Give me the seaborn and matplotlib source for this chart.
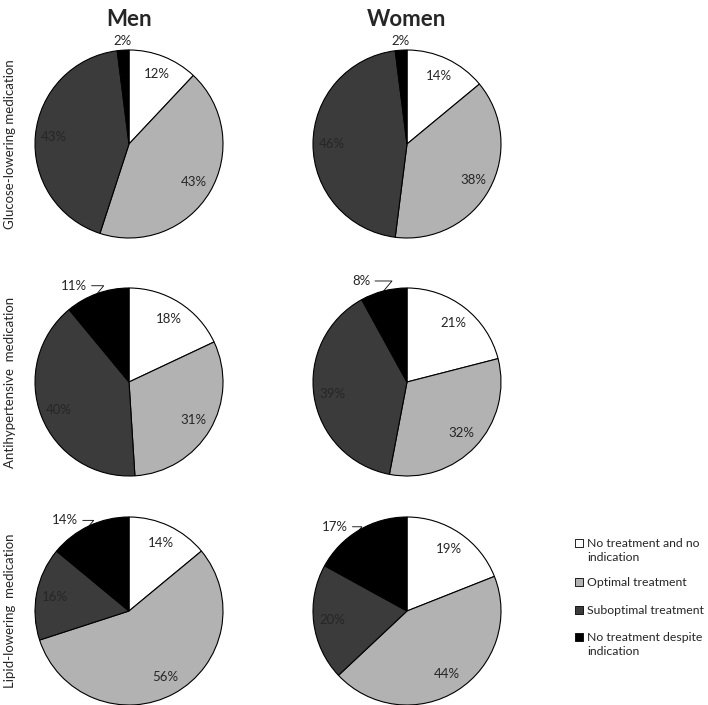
import numpy as np
import matplotlib
matplotlib.use("Agg")
import matplotlib.pyplot as plt
import seaborn as sns

## Data
categories = ["No treatment and no\nindication", "Optimal treatment",
              "Suboptimal treatment", "No treatment despite\nindication"]
groups = ["Men", "Women"]
medications = ["Glucose-lowering medication", "Antihypertensive  medication",
               "Lipid-lowering  medication"]

glucose_men = [12, 43, 43, 2]
glucose_women = [14, 38, 46, 2]
antihyp_men = [18, 31, 40, 11]
antihyp_women = [21, 32, 39, 8]
lipid_men = [14, 56, 16, 14]
lipid_women = [19, 44, 20, 17]

values = [[glucose_men, glucose_women],
          [antihyp_men, antihyp_women],
          [lipid_men, lipid_women]]

## Style
sns.set_style("white")
plt.rcParams['font.family'] = ['Lato', 'DejaVu Sans']
palette = sns.color_palette(["#ffffff", "#b2b2b2", "#3b3b3b", "#000000"])

W, H = 708, 705
R = 94
centers_x = [129, 407]
centers_y = [144, 382, 611]

fig = plt.figure(figsize=(W / 100, H / 100), dpi=100)

def pie_panel(ax, vals):
	wedges, _ = ax.pie(vals, colors=palette, startangle=90, counterclock=False,
	                   wedgeprops=dict(edgecolor="black", linewidth=0.8))
	ax.set_xlim(-1, 1)
	ax.set_ylim(-1, 1)
	for i, (w, v) in enumerate(zip(wedges, vals)):
		mid = np.deg2rad((w.theta1 + w.theta2) / 2)
		if i < 3:
			# Inside labels
			ax.text(0.8 * np.cos(mid), 0.8 * np.sin(mid), f"{v}%", ha="center",
			        va="center", fontsize=9.5)
		elif v < 5:
			# Tiny slice, label just outside
			ax.text(1.1 * np.cos(mid), 1.1 * np.sin(mid), f"{v}%", ha="center",
			        va="center", fontsize=9.5)
		else:
			# Outside label with leader line
			t = mid + np.deg2rad(10)
			ax.annotate(f"{v}%", xy=(np.cos(mid), np.sin(mid)),
			            xytext=(1.18 * np.cos(t), 1.18 * np.sin(t)),
			            ha="center", va="center", fontsize=9.5, annotation_clip=False,
			            arrowprops=dict(arrowstyle="-", color="black", lw=0.6,
			                            shrinkA=1, shrinkB=0,
			                            connectionstyle="angle,angleA=0,angleB=50,rad=0"))

for r, row in enumerate(values):
	for c, vals in enumerate(row):
		cx, cy = centers_x[c], centers_y[r]
		ax = fig.add_axes([(cx - R) / W, 1 - (cy + R) / H, 2 * R / W, 2 * R / H])
		pie_panel(ax, vals)

# Column titles
for c, g in enumerate(groups):
	fig.text(centers_x[c] / W, 1 - 20 / H, g, ha="center", va="center",
	         fontsize=16, fontweight="bold")

# Row labels
for r, m in enumerate(medications):
	fig.text(10 / W, 1 - centers_y[r] / H, m, ha="center", va="center",
	         rotation=90, fontsize=9.5)

# Legend (square aligned with the first text line)
leg = fig.add_axes([0, 0, 1, 1], zorder=-1)
leg.set_xlim(0, W)
leg.set_ylim(H, 0)
leg.axis("off")
leg_y = [543, 582, 610, 637]
for col, lab, y in zip(palette, categories, leg_y):
	leg.scatter([579], [y], marker="s", s=32, color=col, edgecolor="black", linewidth=0.6)
	leg.text(587, y - 5, lab, ha="left", va="top", fontsize=8.8, linespacing=1.3)

plt.savefig("out.png", dpi=100)
